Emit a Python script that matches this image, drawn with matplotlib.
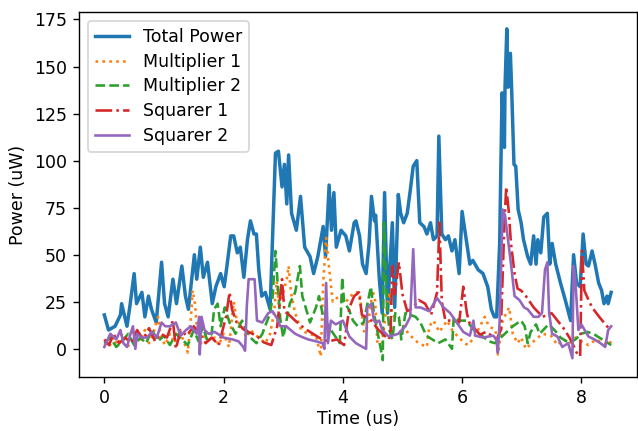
import matplotlib
matplotlib.use("Agg")
import matplotlib.pyplot as plt

# ---- data ----
t_total = [0, 0.07, 0.18, 0.27, 0.29, 0.38, 0.43, 0.50, 0.54, 0.63,
           0.68, 0.74, 0.79, 0.87, 0.96, 1.01, 1.07, 1.15, 1.21, 1.30,
           1.36, 1.41, 1.51, 1.55, 1.61, 1.66, 1.73, 1.81, 1.87, 1.95,
           2.01, 2.06, 2.12, 2.17, 2.23, 2.28, 2.34, 2.40, 2.45, 2.51,
           2.55, 2.59, 2.64, 2.70, 2.78, 2.87, 2.92, 2.98, 3.02, 3.06,
           3.09, 3.14, 3.22, 3.29, 3.36, 3.45, 3.51, 3.58, 3.67, 3.71,
           3.77, 3.81, 3.85, 3.89, 3.97, 4.05, 4.11, 4.19, 4.22, 4.28,
           4.33, 4.39, 4.44, 4.48, 4.53, 4.55, 4.61, 4.66, 4.70, 4.75,
           4.79, 4.83, 4.87, 4.93, 4.97, 5.02, 5.08, 5.13, 5.18, 5.24,
           5.29, 5.36, 5.41, 5.47, 5.52, 5.58, 5.61, 5.66, 5.72, 5.77,
           5.83, 5.88, 5.95, 6.00, 6.06, 6.13, 6.18, 6.27, 6.35, 6.43,
           6.49, 6.54, 6.58, 6.63, 6.67, 6.71, 6.72, 6.75, 6.77, 6.81,
           6.83, 6.87, 6.90, 6.94, 6.99, 7.03, 7.10, 7.15, 7.20, 7.24,
           7.27, 7.32, 7.37, 7.43, 7.47, 7.51, 7.57, 7.65, 7.73, 7.82,
           7.87, 7.92, 7.98, 8.03, 8.08, 8.12, 8.18, 8.23, 8.29, 8.34,
           8.38, 8.43, 8.45, 8.50]
p_total = [18, 10, 12, 18, 24, 12, 23, 40, 24, 30,
           17, 28, 21, 14, 46, 24, 17, 37, 24, 44,
           28, 21, 50, 37, 54, 38, 46, 24, 33, 40,
           33, 45, 60, 60, 51, 54, 38, 58, 68, 61,
           61, 42, 28, 30, 21, 104, 105, 86, 98, 77,
           103, 72, 63, 81, 54, 49, 40, 49, 65, 49,
           87, 63, 83, 54, 63, 60, 52, 67, 68, 60,
           45, 40, 56, 81, 68, 71, 38, 19, 83, 19,
           45, 67, 22, 82, 72, 67, 72, 84, 97, 100,
           67, 65, 61, 67, 58, 60, 113, 61, 58, 60,
           52, 58, 40, 73, 60, 45, 47, 42, 40, 33,
           21, 17, 17, 56, 136, 107, 139, 170, 139, 157,
           139, 98, 97, 74, 67, 58, 49, 45, 60, 45,
           58, 51, 70, 72, 45, 56, 45, 35, 26, 15,
           50, 35, 33, 61, 45, 44, 52, 45, 35, 31,
           24, 28, 24, 30]

t_mult1 = [0.0, 0.08, 0.15, 0.22, 0.3, 0.38, 0.45, 0.52, 0.6, 0.68, 0.75, 0.82, 0.9, 0.95,
           1.02, 1.1, 1.18, 1.25, 1.32, 1.4, 1.46, 1.48, 1.52, 1.56, 1.62, 1.7, 1.78, 1.85,
           1.92, 2.0, 2.09, 2.17, 2.22, 2.3, 2.38, 2.45, 2.52, 2.62, 2.7, 2.78, 2.85, 2.89,
           2.93, 3.0, 3.06, 3.09, 3.13, 3.2, 3.3, 3.42, 3.55, 3.63, 3.67, 3.72, 3.75, 3.78,
           3.83, 3.9, 3.97, 4.05, 4.19, 4.28, 4.32, 4.36, 4.42, 4.5, 4.54, 4.58, 4.66, 4.72,
           4.78, 4.83, 4.98, 5.1, 5.27, 5.41, 5.45, 5.52, 5.62, 5.75, 5.85, 5.95, 6.04, 6.1,
           6.2, 6.3, 6.38, 6.45, 6.56, 6.6, 6.68, 6.79, 6.85, 6.93, 6.99, 7.07, 7.2, 7.35,
           7.49, 7.6, 7.7, 7.8, 7.9, 8.0, 8.12, 8.25, 8.35, 8.45, 8.5]
p_mult1 = [3, 1, 6, 2, 8, 0, 5, 10, 4, 10, 3, 8, 17, 6,
           2, 8, 3, 10, 5, -2, 20, 31, 24, 8, 3, 9, 4, 6,
           2, 8, 1, 25, 15, 12, 6, 10, 8, 5, 3, 8, 20, 36,
           22, 30, 37, 44, 30, 19, 10, 8, 7, -4, 35, 59, 49, 40,
           25, 27, 28, 25, 30, 30, 19, 8.5, 12, 31, 26, 3, 3, 19,
           30, 18, 14, 8, 3, 1, 12, 15, 9, 15, 9, 6, 3, 2,
           6, 12, 17, 12, 10, -3, 15, 22, 8, 3, 6, 0, 4, 8,
           7, 2, 5, 3, 6, 4, 2, 5, 3, 2, 4]

t_mult2 = [0.0, 0.1, 0.2, 0.3, 0.4, 0.5, 0.6, 0.7, 0.8, 0.9, 1.0, 1.1, 1.2, 1.3, 1.4, 1.5,
           1.58, 1.65, 1.72, 1.8, 1.84, 1.9, 1.95, 2.02, 2.1, 2.2, 2.31, 2.38, 2.45, 2.55,
           2.65, 2.78, 2.82, 2.87, 2.9, 2.95, 3.0, 3.11, 3.2, 3.28, 3.32, 3.45, 3.55, 3.6,
           3.67, 3.8, 3.95, 3.99, 4.02, 4.1, 4.17, 4.25, 4.35, 4.47, 4.52, 4.63, 4.67, 4.69,
           4.72, 4.75, 4.78, 4.83, 4.88, 4.94, 4.98, 5.05, 5.22, 5.3, 5.4, 5.6, 5.72, 5.83,
           5.86, 5.95, 6.07, 6.2, 6.35, 6.45, 6.55, 6.65, 6.75, 6.85, 6.99, 7.05, 7.1, 7.15,
           7.24, 7.3, 7.45, 7.55, 7.65, 7.8, 7.9, 8.0, 8.1, 8.2, 8.3, 8.4, 8.5]
p_mult2 = [3, 6, 1, 4, 8, 2, 6, 3, 10, 4, 7, 2, 8, 5, 2, 10,
           4, 12, 5, 8, 21, 24, 12, 22, 14, 8, 15, 10, 6, 3,
           8, 19, 27, 52, 38, 16, 6, 24, 30, 44, 28, 14, 22, 28,
           17, 10, 3, 38, 25, 21, 15, 12, 14, 33, 19, 1, -6, 67,
           40, 20, 10, 5, 19, 17, 5, 19, 17, 14, 7, 3, 5, 0,
           17, 15, 15, 10, 6.5, 4, 3, 6, 9, 12, 15, 12, 3, 9,
           13, 8, 13, 10, 6, 3, 5, 8, 9, 8, 6, 4, 2]

t_sq1 = [0.0, 0.08, 0.15, 0.25, 0.35, 0.45, 0.55, 0.65, 0.75, 0.85, 0.95, 1.05, 1.15, 1.2,
         1.28, 1.38, 1.5, 1.6, 1.7, 1.8, 1.92, 2.04, 2.1, 2.14, 2.22, 2.35, 2.55, 2.67, 2.8,
         2.9, 2.95, 2.98, 3.02, 3.1, 3.2, 3.35, 3.5, 3.65, 3.77, 3.9, 4.02, 4.11, 4.19, 4.27,
         4.32, 4.45, 4.6, 4.77, 4.8, 4.83, 4.87, 4.94, 5.0, 5.08, 5.18, 5.27, 5.38, 5.48, 5.58,
         5.62, 5.66, 5.72, 5.85, 5.95, 6.02, 6.08, 6.12, 6.3, 6.4, 6.5, 6.58, 6.65, 6.71, 6.74,
         6.78, 6.82, 6.88, 6.93, 6.99, 7.07, 7.2, 7.35, 7.5, 7.6, 7.7, 7.8, 7.85, 7.92, 7.98,
         8.01, 8.05, 8.12, 8.18, 8.3, 8.43, 8.5]
p_sq1 = [5, 2, 8, 3, 6, 3, 10, 5, 11, 4, 8, 6, 15, 0,
         10, 7, 12, 8, 3, 6, 2, 17, 30, 21, 14, 10, 7, 3.5, 2,
         12, 28, 37, 20, 18, 15, 11, 8, 5, 4, 5, 2, 22, 28, 30,
         18, 16, 10, 5, 8, 44, 29, 46, 29, 20, 22, 26, 24, 18, 30,
         67, 25, 15, 15, 14, 33, 19, 14, 7.5, 9, 7, 5, 10, 67, 86,
         74, 56, 40, 32, 31, 28, 22, 17, 19, 15, 11, 6, 3, -2, -4,
         52, 31, 26, 22, 17, 12, 10]

t_sq2 = [0.0, 0.1, 0.2, 0.27, 0.32, 0.38, 0.43, 0.48, 0.52, 0.55, 0.62, 0.72, 0.8, 0.88,
         0.96, 1.02, 1.1, 1.2, 1.28, 1.37, 1.45, 1.55, 1.59, 1.6, 1.63, 1.68, 1.75, 1.85,
         2.0, 2.15, 2.25, 2.33, 2.36, 2.39, 2.42, 2.52, 2.56, 2.65, 2.75, 2.82, 2.9, 2.95,
         3.05, 3.2, 3.3, 3.42, 3.55, 3.66, 3.69, 3.72, 3.75, 3.8, 3.88, 4.0, 4.11, 4.22,
         4.33, 4.39, 4.41, 4.48, 4.52, 4.56, 4.61, 4.66, 4.77, 4.93, 5.05, 5.13, 5.18, 5.22,
         5.3, 5.45, 5.58, 5.69, 5.8, 5.91, 6.02, 6.13, 6.19, 6.22, 6.35, 6.52, 6.58, 6.6,
         6.63, 6.68, 6.72, 6.82, 6.88, 6.96, 7.04, 7.1, 7.2, 7.28, 7.34, 7.39, 7.43, 7.46,
         7.51, 7.6, 7.68, 7.78, 7.85, 7.87, 7.9, 7.95, 8.0, 8.12, 8.22, 8.32, 8.4, 8.45, 8.5]
p_sq2 = [1, 8, 5, 10, 3, 1, 7, 12, 0, 8, 6, 6, 9, 6,
         14, 12, 12, 14, 7, 10, 12, 8, 17, -3, 17, 10, 8, 9,
         6, 5, 4, 1, -1, 23, 37, 37, 15, 14, 19, 20, 16, 12,
         12, 8, 6.5, 5, 4, 3, 0, 35, 3, 15, 13, 15, 6.5, 3,
         1, 0, 22, 24, 15, 14, 15, 10, 6.5, 8, 12, 17, 53, 22,
         22, 20, 27, 22, 19, 14, 9, 7, 15, 7, 6, 7, 5, -2,
         15, 74, 71, 45, 28, 26, 22, 21, 17, 17, 19, 42, 46, 19,
         8, 6.5, 1, 3, -5, 44, 36, 10, 13, 6.5, 5, 3, 1, 10, 12]

labels = ["Total Power", "Multiplier 1", "Multiplier 2", "Squarer 1", "Squarer 2"]

DPI = 125
fig, ax = plt.subplots(figsize=(638 / DPI, 431 / DPI), dpi=DPI)
fig.subplots_adjust(left=79 / 638, right=636.5 / 638, top=1 - 12.3 / 431, bottom=1 - 376.7 / 431)

ax.plot(t_total, p_total, color="#1f77b4", lw=2, ls="-", label=labels[0])
ax.plot(t_mult1, p_mult1, color="#ff7f0e", lw=1.5, ls=":", label=labels[1])
ax.plot(t_mult2, p_mult2, color="#2ca02c", lw=1.5, ls="--", label=labels[2])
ax.plot(t_sq1, p_sq1, color="#d62728", lw=1.5, ls="-.", label=labels[3])
ax.plot(t_sq2, p_sq2, color="#9467bd", lw=1.5, ls="-", label=labels[4])

ax.set_xlabel("Time (us)", labelpad=2)
ax.set_ylabel("Power (uW)")
ax.set_xticks([0, 2, 4, 6, 8])
ax.set_yticks([0, 25, 50, 75, 100, 125, 150, 175])
ax.legend(loc="upper left", labelspacing=0.39)

fig.savefig("out.png", dpi=DPI)
